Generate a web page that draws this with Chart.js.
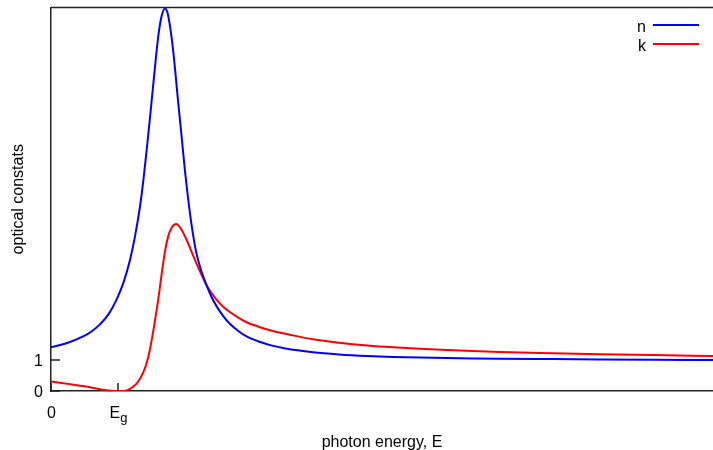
<!DOCTYPE html>
<html lang="en">
<head>
<meta charset="UTF-8">
<title>Optical constants</title>
<script src="https://cdn.jsdelivr.net/npm/chart.js"></script>
<style>
  body { margin: 0; background: #fff; }
  #wrap { width: 713px; height: 450px; }
</style>
</head>
<body>
<div id="wrap"><canvas id="chart"></canvas></div>
<script>
// photon energy in units of the gap (E_g = 1)
const energyN = [0, 0.23, 0.48, 0.61, 0.73, 0.86, 0.98, 1.08, 1.18, 1.25, 1.33, 1.38, 1.43, 1.48, 1.53, 1.57, 1.61, 1.65, 1.70, 1.74, 1.78, 1.82, 1.85, 1.89, 1.93, 1.97, 2.00, 2.07, 2.12, 2.17, 2.24, 2.32, 2.40, 2.47, 2.57, 2.67, 2.80, 2.92, 3.12, 3.27, 3.5, 3.91, 4.3, 4.72, 5.1, 5.51, 6.1, 6.7, 7.5, 8.19, 9.0, 9.88];
const nValues = [1.41, 1.54, 1.76, 1.93, 2.15, 2.48, 2.96, 3.49, 4.24, 4.95, 5.98, 6.83, 7.82, 8.88, 9.98, 10.85, 11.6, 12.1, 12.35, 12.2, 11.72, 11.05, 10.42, 9.5, 8.64, 7.75, 7.1, 5.8, 5.05, 4.45, 3.9, 3.42, 3.02, 2.74, 2.42, 2.17, 1.93, 1.76, 1.58, 1.48, 1.37, 1.25, 1.18, 1.13, 1.10, 1.08, 1.06, 1.04, 1.03, 1.02, 1.01, 1.00];

const energyK = [0, 0.25, 0.5, 0.75, 0.9, 1.0, 1.13, 1.22, 1.30, 1.38, 1.43, 1.48, 1.55, 1.60, 1.65, 1.70, 1.75, 1.80, 1.87, 1.95, 2.03, 2.12, 2.22, 2.32, 2.40, 2.47, 2.57, 2.67, 2.80, 2.92, 3.12, 3.27, 3.6, 3.91, 4.3, 4.72, 5.1, 5.51, 6.1, 6.7, 7.5, 8.19, 9.0, 9.88];
const kValues = [0.31, 0.23, 0.15, 0.05, 0.01, 0.0, 0.02, 0.13, 0.30, 0.62, 0.92, 1.38, 2.25, 2.95, 3.75, 4.5, 5.0, 5.27, 5.39, 5.2, 4.85, 4.38, 3.88, 3.42, 3.15, 2.95, 2.72, 2.55, 2.36, 2.22, 2.06, 1.96, 1.80, 1.67, 1.56, 1.47, 1.41, 1.36, 1.31, 1.26, 1.22, 1.19, 1.16, 1.13];

const xTicks = [0, 1];
const xTickLabels = ['0', 'E_g'];
const yTicks = [0, 1];

const axisColor = '#222';
const fontFamily = '"Liberation Sans", Arial, sans-serif';

// gnuplot-like frame: top border, inward ticks, subscripted x labels, key at top right
const frame = {
  id: 'frame',
  afterDraw(chart) {
    const { ctx, chartArea: a, scales: { x, y } } = chart;
    ctx.save();
    ctx.strokeStyle = axisColor;
    ctx.lineWidth = 1.5;
    ctx.beginPath();
    ctx.moveTo(a.left, a.top);
    ctx.lineTo(a.right, a.top);
    yTicks.forEach(v => {
      const py = y.getPixelForValue(v);
      ctx.moveTo(a.left, py);
      ctx.lineTo(a.left + 9, py);
    });
    xTicks.forEach(v => {
      const px = x.getPixelForValue(v);
      ctx.moveTo(px, a.bottom);
      ctx.lineTo(px, a.bottom - 8);
    });
    ctx.stroke();

    ctx.fillStyle = '#000';
    ctx.textBaseline = 'alphabetic';
    ctx.textAlign = 'left';
    xTicks.forEach((v, i) => {
      const [main, sub] = xTickLabels[i].split('_');
      ctx.font = '16px ' + fontFamily;
      const w1 = ctx.measureText(main).width;
      ctx.font = '13px ' + fontFamily;
      const w2 = sub ? ctx.measureText(sub).width : 0;
      const x0 = x.getPixelForValue(v) - (w1 + w2) / 2 + 0.5;
      ctx.font = '16px ' + fontFamily;
      ctx.fillText(main, x0, a.bottom + 27);
      if (sub) {
        ctx.font = '13px ' + fontFamily;
        ctx.fillText(sub, x0 + w1, a.bottom + 30.5);
      }
    });

    chart.data.datasets.forEach((ds, i) => {
      const by = 31.5 + i * 19;
      ctx.font = '16px ' + fontFamily;
      ctx.textAlign = 'right';
      ctx.fillStyle = '#000';
      ctx.fillText(ds.label, 646, by);
      ctx.strokeStyle = ds.borderColor;
      ctx.lineWidth = 2;
      ctx.beginPath();
      ctx.moveTo(653, by - 6.5);
      ctx.lineTo(699, by - 6.5);
      ctx.stroke();
    });
    ctx.restore();
  }
};

new Chart(document.getElementById('chart'), {
  type: 'line',
  data: {
    datasets: [{
      label: 'n',
      data: energyN.map((e, i) => ({ x: e, y: nValues[i] })),
      borderColor: '#0000ff',
      borderWidth: 2,
      pointRadius: 0,
      cubicInterpolationMode: 'monotone',
      fill: false
    }, {
      label: 'k',
      data: energyK.map((e, i) => ({ x: e, y: kValues[i] })),
      borderColor: '#ff0000',
      borderWidth: 2,
      pointRadius: 0,
      cubicInterpolationMode: 'monotone',
      fill: false
    }]
  },
  options: {
    responsive: true,
    maintainAspectRatio: false,
    animation: false,
    layout: { padding: { top: 7.5, right: 0, bottom: 0, left: 0 } },
    plugins: { legend: { display: false }, tooltip: { enabled: false } },
    scales: {
      x: {
        type: 'linear',
        min: 0,
        max: 9.88,
        grid: { display: false, drawTicks: false },
        border: { display: true, color: axisColor, width: 1.5 },
        ticks: { display: false },
        afterBuildTicks: s => { s.ticks = xTicks.map(v => ({ value: v })); },
        afterFit: s => { s.height = 59; s.paddingLeft = 0; s.paddingRight = 0; },
        title: {
          display: true,
          text: 'photon energy, E',
          color: '#000',
          font: { family: fontFamily, size: 16 },
          padding: { top: 0, bottom: -2 }
        }
      },
      y: {
        type: 'linear',
        min: 0,
        max: 12.38,
        grid: { display: false, drawTicks: false },
        border: { display: true, color: axisColor, width: 1.5 },
        ticks: { padding: 8, labelOffset: 2, color: '#000', font: { family: fontFamily, size: 16 } },
        afterBuildTicks: s => { s.ticks = yTicks.map(v => ({ value: v })); },
        afterFit: s => { s.width = 51; s.paddingTop = 0; s.paddingBottom = 0; },
        title: {
          display: true,
          text: 'optical constats',
          color: '#000',
          font: { family: fontFamily, size: 16 },
          padding: { top: 9, bottom: 0 }
        }
      }
    }
  },
  plugins: [frame]
});
</script>
</body>
</html>
